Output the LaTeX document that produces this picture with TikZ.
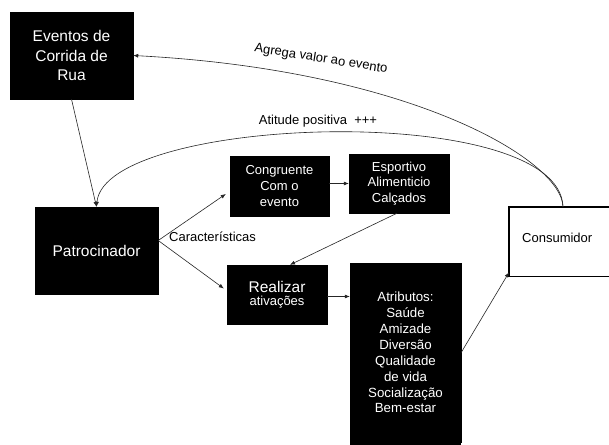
\documentclass[tikz,border=0pt]{standalone}
\usepackage{fontspec}
\setmainfont{Liberation Sans}
\usetikzlibrary{arrows.meta,calc}
\tikzset{
  blk/.style={fill=black,text=white,draw=black,inner sep=0pt,align=center},
  bigtxt/.style={font=\fontsize{15.5}{19.5}\selectfont},
  smtxt/.style={font=\fontsize{13}{15.8}\selectfont},
  conn/.style={draw=black!85,line width=0.6pt,-{Latex[length=5pt,width=4pt]}},
  lbl/.style={font=\fontsize{13}{15.8}\selectfont,inner sep=0pt}
}
\begin{document}
\begin{tikzpicture}[x=1pt,y=-1pt]
\useasboundingbox (0,0) rectangle (609,444);
\clip (0,0) rectangle (609,444);
\fill[white] (0,0) rectangle (609,444);
% boxes
\node[blk,bigtxt,minimum width=123pt,minimum height=87pt] (evento) at (71.5,55.5) {Eventos de\\Corrida de\\Rua};
\node[blk,bigtxt,minimum width=123pt,minimum height=87pt] (patro) at (96.5,250.5) {Patrocinador};
\node[blk,smtxt,minimum width=99pt,minimum height=60pt] (cong) at (279.5,186) {Congruente\\Com o\\evento};
\node[blk,smtxt,minimum width=100pt,minimum height=59pt] (esport) at (399,183.5) {Esportivo\\Alimenticio\\Calçados};
\node[blk,minimum width=100pt,minimum height=59pt] (real) at (277,294.5) {{\fontsize{15.5}{19.5}\selectfont Realizar}\\[1pt]{\fontsize{13}{15}\selectfont ativações}};
\node[blk,smtxt,minimum width=111pt,minimum height=179pt,font=\fontsize{13.3}{15.9}\selectfont] (attr) at (405.5,352.5) {Atributos:\\Saúde\\Amizade\\Diversão\\Qualidade\\de vida\\Socialização\\Bem-estar};
\fill[black] (attr.south west) rectangle ($(attr.south east)+(0,10)$);
\node[anchor=north west,minimum width=100pt,minimum height=69pt,inner sep=0pt] (cons) at (509,207) {};
\draw[line width=1.6pt] (cons.north east) -- (cons.north west) -- (cons.south west) -- (cons.south east);
\node[smtxt,anchor=west,inner sep=0pt] (constxt) at (522,238) {Consumidor};
% connectors
\draw[conn] (evento.south) -- (patro.north);
\draw[conn] ([xshift=54pt]cons.north west) .. controls (560,100) and (105,115) .. (patro.north);
\draw[conn] ([xshift=54pt]cons.north west) .. controls (562,160) and (410,70) .. (evento.east);
\node[lbl,rotate=-9] (agrega) at (321,59) {Agrega valor ao evento};
\node[lbl] (atitude) at (318,121) {Atitude positiva\ \ +++};
\draw[conn] ([yshift=10pt]patro.east) -- ([xshift=-4pt,yshift=-8pt]cong.west);
\draw[conn] ([yshift=10pt]patro.east) -- ([xshift=-3pt,yshift=6pt]real.west);
\node[lbl,anchor=west] (carac) at (169,237) {Características};
\draw[conn] (esport.west -| cong.east) -- (esport.west);
\draw[conn] ([xshift=-2pt]esport.south) -- ([xshift=13pt]real.north);
\draw[conn] ([yshift=-2pt]real.east) -- ([yshift=-2pt]real.east -| attr.west);
\draw[conn] (attr.east) -- ([yshift=4pt]cons.south west);
\end{tikzpicture}
\end{document}
